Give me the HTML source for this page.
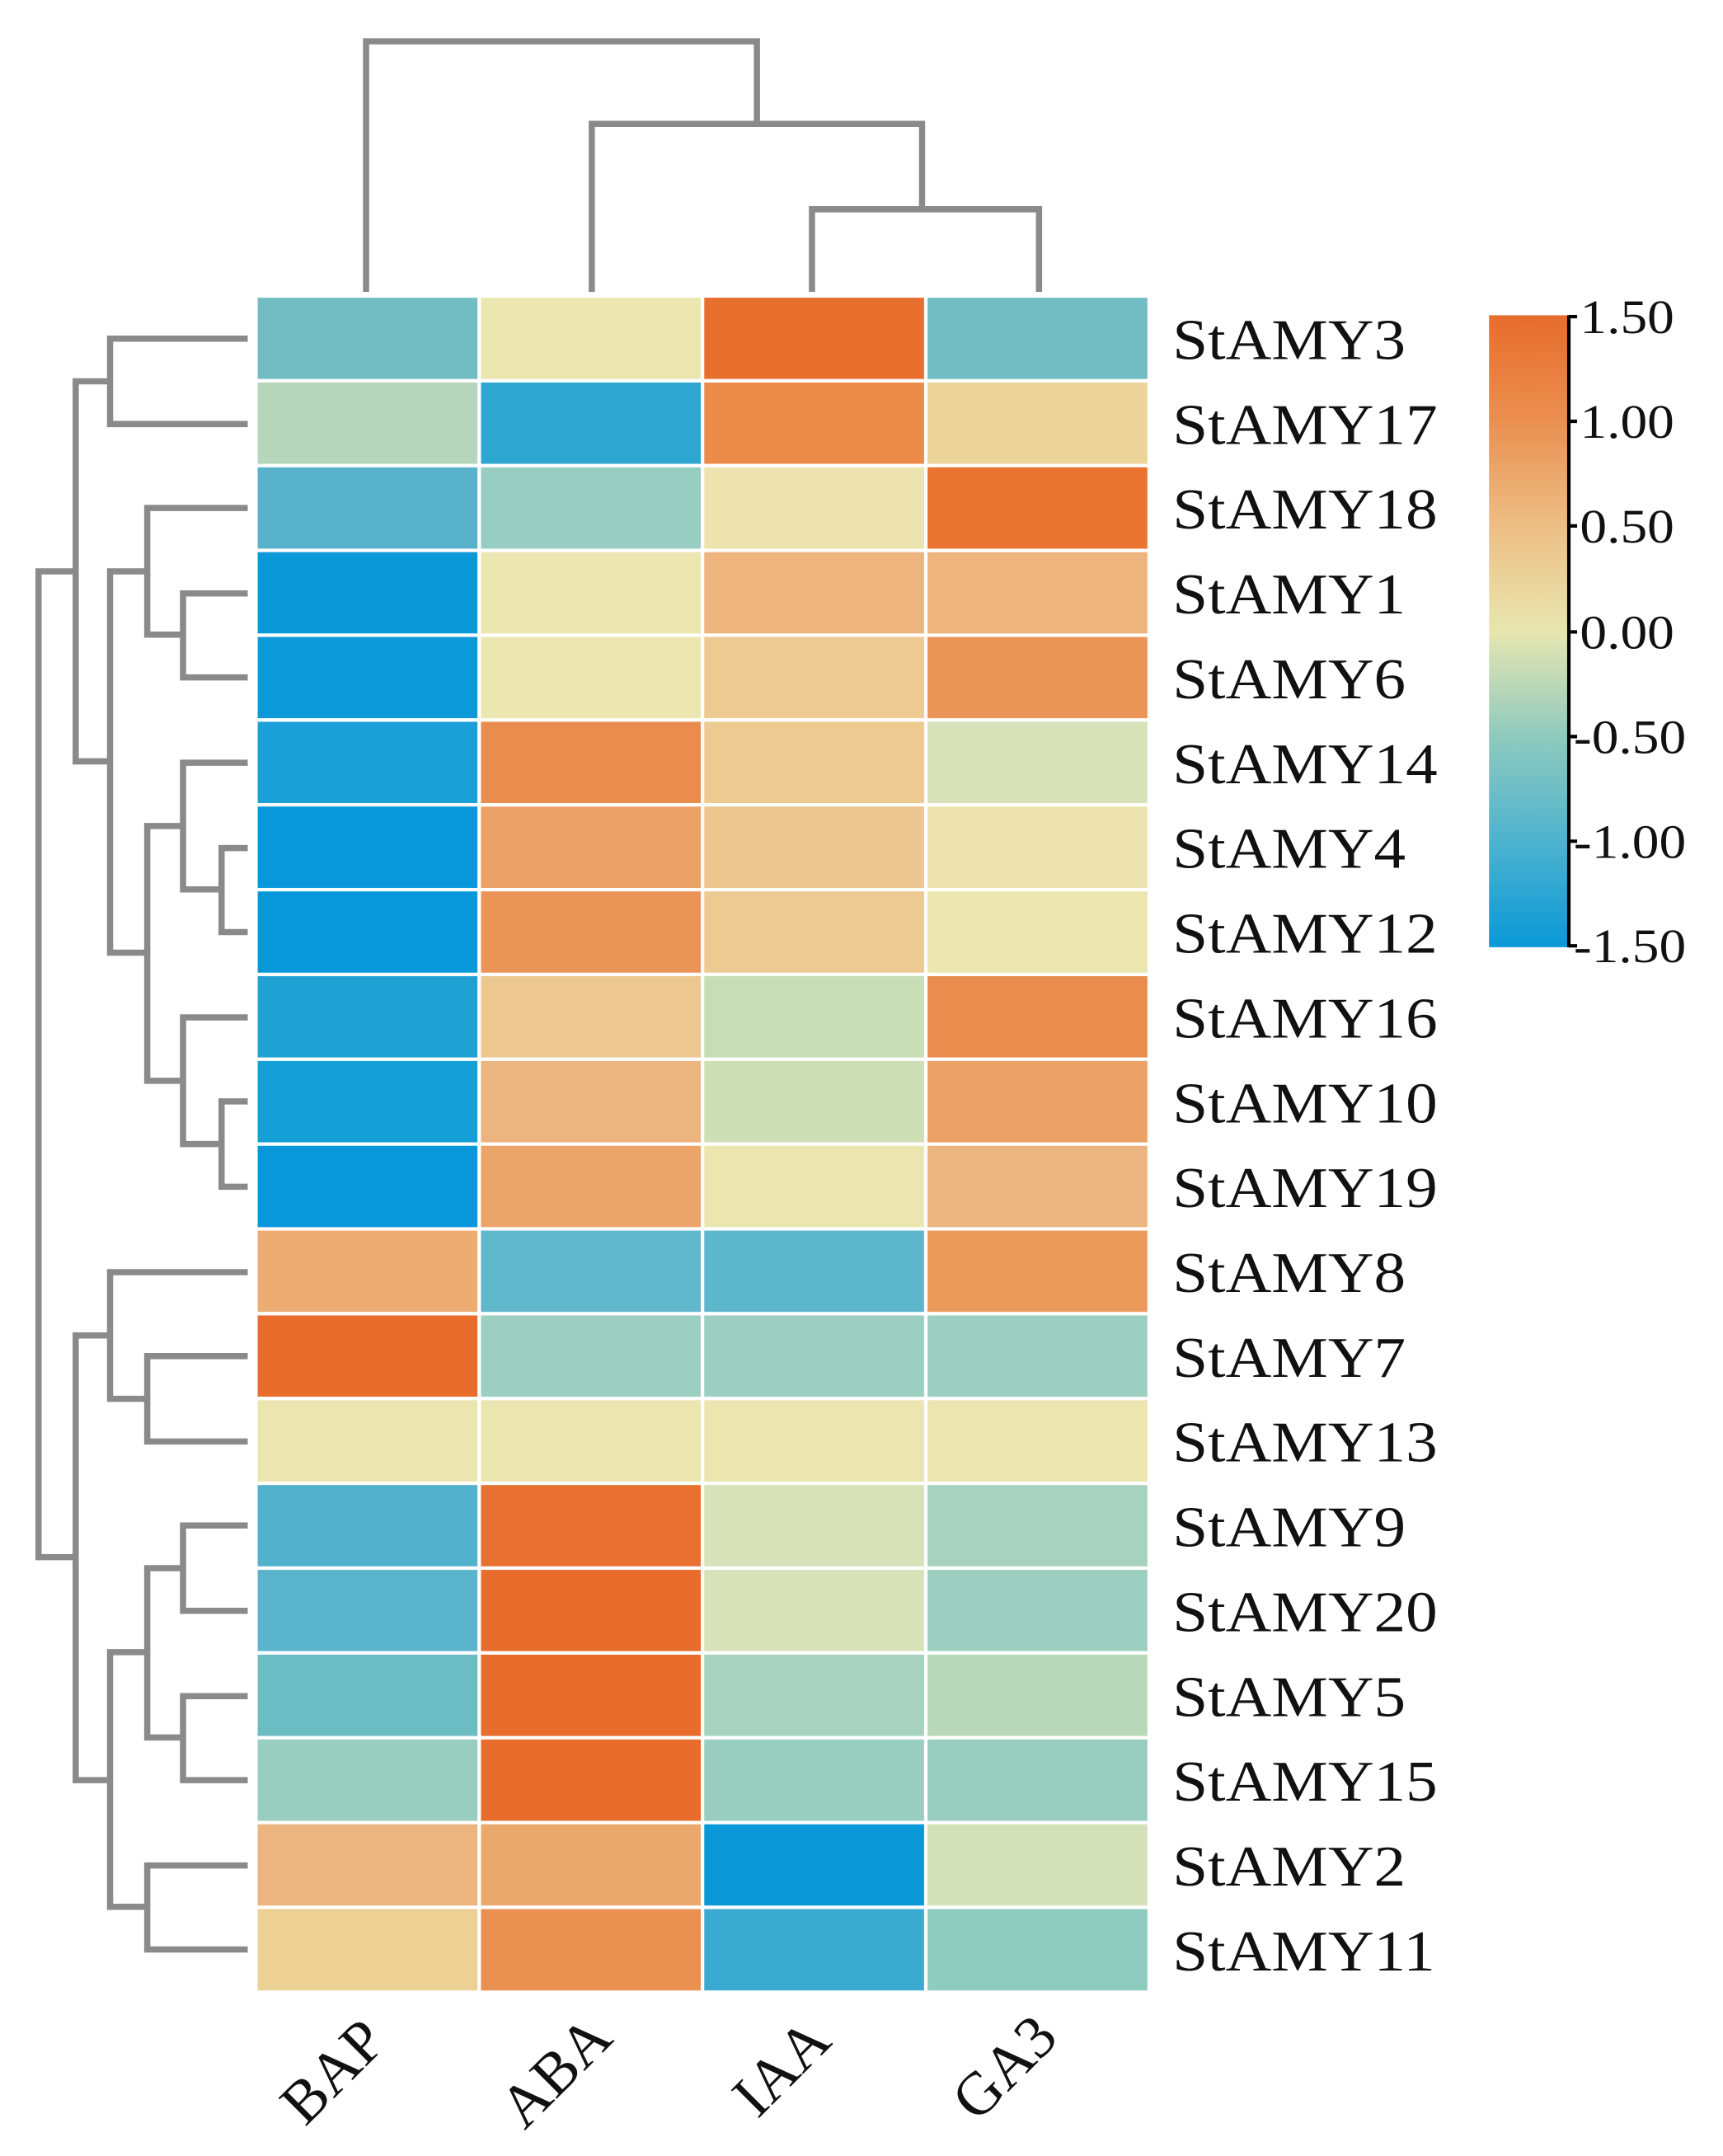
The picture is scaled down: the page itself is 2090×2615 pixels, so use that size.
<!DOCTYPE html>
<html><head><style>html,body{margin:0;padding:0;background:#fff}svg{display:block}</style></head>
<body>
<svg width="2090" height="2615" viewBox="0 0 1252 1566" preserveAspectRatio="none" xmlns="http://www.w3.org/2000/svg" font-family="Liberation Serif, serif">
<defs>
<linearGradient id="cb" x1="0" y1="0" x2="0" y2="1">
<stop offset="0" stop-color="#e86c2c"/>
<stop offset="0.167" stop-color="#ea8f50"/>
<stop offset="0.333" stop-color="#edbe84"/>
<stop offset="0.5" stop-color="#e8e6b0"/>
<stop offset="0.667" stop-color="#8fcabe"/>
<stop offset="0.833" stop-color="#4db3cf"/>
<stop offset="1" stop-color="#0a98d8"/>
</linearGradient>
</defs>
<g id="cells"></g>
<g fill="none" stroke="#8a8a8a" stroke-width="4.5">
<path d="M266 212V30H550V90"/>
<path d="M430 212V90H670V152"/>
<path d="M590 212V152H755V212"/>
<path d="M180 246H80V308H180"/>
<path d="M180 431H133V492H180"/>
<path d="M180 369H107V461H133"/>
<path d="M180 616H161V677H180"/>
<path d="M180 554H133V646H161"/>
<path d="M180 800H161V862H180"/>
<path d="M180 739H133V831H161"/>
<path d="M133 600H107V785H133"/>
<path d="M107 415H80V692H107"/>
<path d="M80 277H55V553H80"/>
<path d="M180 985H107V1047H180"/>
<path d="M180 924H80V1016H107"/>
<path d="M180 1108H133V1170H180"/>
<path d="M180 1232H133V1293H180"/>
<path d="M133 1139H107V1262H133"/>
<path d="M180 1355H107V1416H180"/>
<path d="M107 1200H80V1385H107"/>
<path d="M80 970H55V1293H80"/>
<path d="M55 415H28V1131H55"/>
</g>
<rect x="1082" y="229" width="58" height="459" fill="url(#cb)"/>
<g stroke="#000" stroke-width="2.5"><path d="M1140 229V688"/>
<path d="M1140 230h6M1140 306h6M1140 382h6M1140 459h6M1140 535h6M1140 611h6M1140 687h6"/></g>
<g font-size="35" fill="#111" transform="translate(1148,0) scale(1.12,1)">
<text x="0" y="242">1.50</text><text x="0" y="318">1.00</text><text x="0" y="394">0.50</text><text x="0" y="471">0.00</text><text x="-4" y="547">-0.50</text><text x="-4" y="623">-1.00</text><text x="-4" y="699">-1.50</text>
</g>
<g font-size="44" fill="#111" text-anchor="middle">
<text transform="translate(252,1515) rotate(-45)">BAP</text>
<text transform="translate(414,1515) rotate(-45)">ABA</text>
<text transform="translate(578,1512) rotate(-45)">IAA</text>
<text transform="translate(740,1512) rotate(-45)">GA3</text>
</g>
<script>
var rows=[["StAMY3","#72bcc4","#ece6b0","#e8702f","#72bcc4"],
["StAMY17","#b5d6bb","#2ea6d2","#ec8a4a","#ecd49a"],
["StAMY18","#58b2cc","#98cdc2","#ece3ae","#e8742f"],
["StAMY1","#0a98d8","#ece6b0","#edb47e","#edb47e"],
["StAMY6","#0c99d8","#ece6b0","#ecca92","#ea9458"],
["StAMY14","#1aa0d6","#ea8c4e","#ecca92","#d8e2b8"],
["StAMY4","#0797da","#eba066","#ecc68e","#ece3ae"],
["StAMY12","#0898da","#ea9458","#ecca92","#ece6b0"],
["StAMY16","#1fa1d4","#ecc890","#c7ddb6","#ea8c4e"],
["StAMY10","#14a0d6","#ecb47e","#cfdfb5","#eba066"],
["StAMY19","#0797da","#eba469","#ebe6b0","#ecb47e"],
["StAMY8","#ecac72","#5fb8cb","#5cb6cc","#eb9a5c"],
["StAMY7","#e86c2c","#9dcfc0","#9dcfc0","#9dcfc0"],
["StAMY13","#ebe5b0","#ebe5b0","#ebe5b0","#ebe5b0"],
["StAMY9","#52b2cc","#e87030","#d8e2b8","#a6d2bf"],
["StAMY20","#5ab5cc","#e86c2c","#d8e2b8","#9ccfc0"],
["StAMY5","#6cbcc4","#e86c2c","#a6d2bf","#b9d8ba"],
["StAMY15","#98cdc0","#e86c2c","#98cdc0","#98cdc0"],
["StAMY2","#ecb47e","#eba86c","#0a98d8","#d5e1b8"],
["StAMY11","#ecd094","#ea9050","#3aaad0","#90cbc0"]];
var g=document.getElementById("cells"),ns="http://www.w3.org/2000/svg",h=61.6,w=162.25;
rows.forEach(function(r,i){for(var j=0;j<4;j++){var e=document.createElementNS(ns,"rect");
e.setAttribute("x",186+j*w);e.setAttribute("y",215+i*h);e.setAttribute("width",w);e.setAttribute("height",h);
e.setAttribute("fill",r[j+1]);e.setAttribute("stroke","#fff");e.setAttribute("stroke-width","2.5");g.appendChild(e);}
var t=document.createElementNS(ns,"text");
t.setAttribute("transform","translate(852,"+(215+i*h+h/2+15)+") scale(1.1,1)");
t.setAttribute("font-size","42");t.setAttribute("fill","#111");t.textContent=r[0];g.appendChild(t);});
</script>
</svg>
</body></html>
